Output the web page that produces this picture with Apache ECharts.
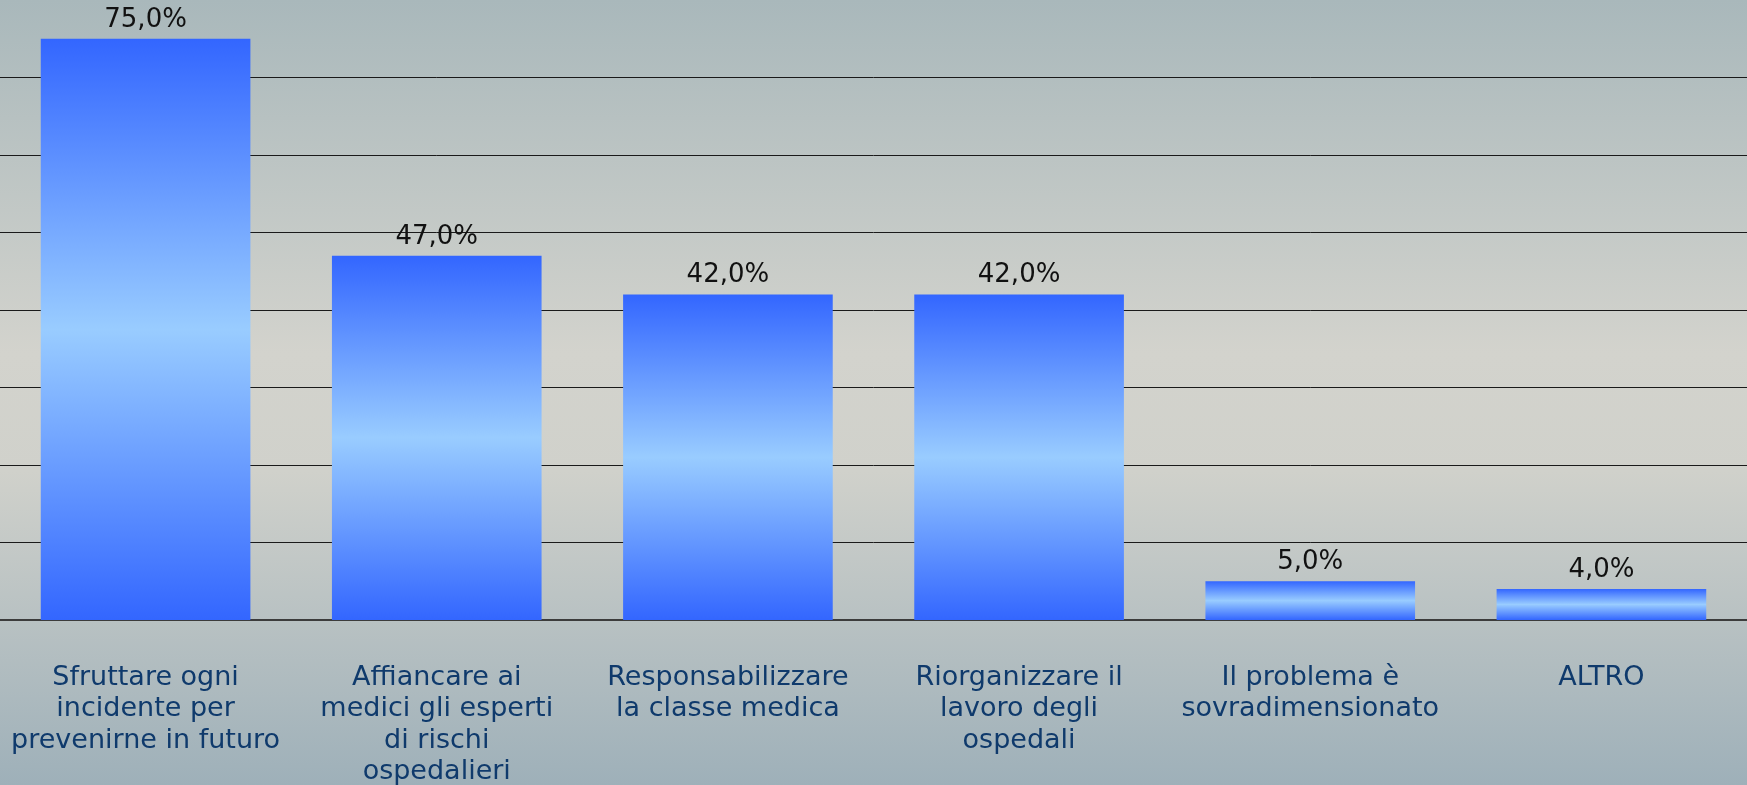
<!DOCTYPE html>
<html>
<head>
<meta charset="utf-8">
<script src="https://cdn.jsdelivr.net/npm/echarts@6/dist/echarts.min.js"></script>
<style>
html,body{margin:0;padding:0;}
#chart{width:1747px;height:785px;}
</style>
</head>
<body>
<div id="chart"></div>
<script>
const categories = [
  "Sfruttare ogni\nincidente per\nprevenirne in futuro",
  "Affiancare ai\nmedici gli esperti\ndi rischi\nospedalieri",
  "Responsabilizzare\nla classe medica",
  "Riorganizzare il\nlavoro degli\nospedali",
  "Il problema è\nsovradimensionato",
  "ALTRO"
];
const values = [75.0, 47.0, 42.0, 42.0, 5.0, 4.0];
const yMin = 0, yMax = 80, yInterval = 10;

const chart = echarts.init(document.getElementById('chart'));
chart.setOption({
  backgroundColor: {
    type: 'linear', x: 0, y: 0, x2: 0, y2: 1,
    colorStops: [
      {offset: 0, color: '#a9b8bb'},
      {offset: 0.45, color: '#d3d3cd'},
      {offset: 0.6, color: '#d0d1cb'},
      {offset: 1, color: '#9eb0b9'}
    ]
  },
  animation: false,
  grid: {left: 0, right: 0, top: 0, bottom: 165, containLabel: false, outerBoundsMode: 'none'},
  xAxis: {
    type: 'category',
    data: categories,
    axisLine: {show: true, lineStyle: {color: '#3c3c3c', width: 2}},
    axisTick: {show: false},
    axisLabel: {
      interval: 0,
      color: '#0f3a6c',
      fontFamily: 'DejaVu Sans',
      fontSize: 27,
      lineHeight: 31.5,
      margin: 42
    }
  },
  yAxis: {
    type: 'value',
    min: yMin, max: yMax, interval: yInterval,
    axisLine: {show: false},
    axisTick: {show: false},
    axisLabel: {show: false},
    splitLine: {show: true, showMaxLine: false, lineStyle: {color: '#1a1a1a', width: 1}}
  },
  series: [{
    type: 'bar',
    data: values,
    barCategoryGap: '28%',
    itemStyle: {
      color: {
        type: 'linear', x: 0, y: 0, x2: 0, y2: 1,
        colorStops: [
          {offset: 0, color: '#3366ff'},
          {offset: 0.5, color: '#99ccff'},
          {offset: 1, color: '#3366ff'}
        ]
      }
    },
    label: {
      show: true,
      position: 'top',
      distance: 6,
      color: '#111111',
      fontFamily: 'DejaVu Sans',
      fontSize: 26,
      formatter: p => p.value.toFixed(1).replace('.', ',') + '%'
    }
  }]
});
</script>
</body>
</html>
